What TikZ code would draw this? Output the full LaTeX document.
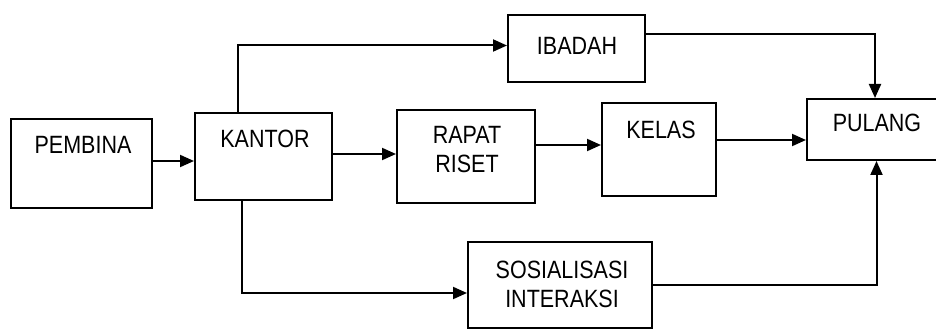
\documentclass[tikz,border=0pt]{standalone}
\usepackage{fontspec}
\newfontfamily\labfont[FakeStretch=0.86]{Liberation Sans}
\usetikzlibrary{arrows.meta}
\tikzset{
  box/.style={draw, line width=2pt, rectangle, inner sep=0pt, anchor=center},
  lab/.style={font=\labfont\fontsize{25}{29}\selectfont, align=center, inner sep=0pt, anchor=center},
  arr/.style={line width=2pt, -{Triangle[length=14pt,width=12pt]}}
}
\begin{document}
\begin{tikzpicture}[x=1pt,y=-1pt]
\fill[white] (0,0) rectangle (936,331);
\clip (0,0) rectangle (936,331);
% boxes
\node[box, minimum width=141pt, minimum height=89pt] (pembina) at (81.5,163.5) {};
\node[box, minimum width=137pt, minimum height=87pt] (kantor) at (263.5,156.5) {};
\node[box, minimum width=137pt, minimum height=67pt] (ibadah) at (576.5,48.5) {};
\node[box, minimum width=138pt, minimum height=93pt] (rapat) at (466,156.5) {};
\node[box, minimum width=114pt, minimum height=93pt] (kelas) at (659,149.5) {};
\node[box, minimum width=143pt, minimum height=61pt] (pulang) at (878.5,129.5) {};
\node[box, minimum width=184pt, minimum height=86pt] (sos) at (560,285) {};
% labels
\node[lab] (pembinaT) at (83,145) {PEMBINA};
\node[lab] (kantorT) at (265,139) {KANTOR};
\node[lab] (ibadahT) at (577,46) {IBADAH};
\node[lab] (rapatT) at (467,150) {RAPAT\\RISET};
\node[lab] (kelasT) at (661,130) {KELAS};
\node[lab] (pulangT) at (877,123) {PULANG};
\node[lab] (sosT) at (562,284) {SOSIALISASI\\INTERAKSI};
% connectors
\draw[arr] ([yshift=2.5pt]pembina.east) -- ([yshift=2.5pt]pembina.east -| kantor.west);
\draw[arr] ([yshift=2.5pt]kantor.east) -- ([yshift=2.5pt]kantor.east -| rapat.west);
\draw[arr] ([yshift=11.5pt]rapat.east) -- ([yshift=11.5pt]rapat.east -| kelas.west);
\draw[arr] ([yshift=9.5pt]kelas.east) -- ([yshift=9.5pt]kelas.east -| pulang.west);
\draw[arr] ([xshift=-25.5pt]kantor.north) |- ([yshift=3pt]ibadah.west);
\draw[arr] ([yshift=14.5pt]ibadah.east) -| ([xshift=-3.5pt]pulang.north);
\draw[arr] ([xshift=-21.5pt]kantor.south) |- ([yshift=-8pt]sos.west);
\draw[arr] (sos.east) -| ([xshift=-2pt]pulang.south);
\end{tikzpicture}
\end{document}
